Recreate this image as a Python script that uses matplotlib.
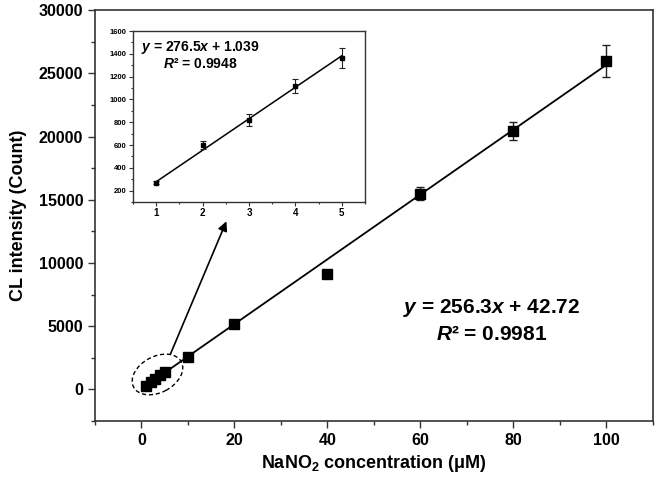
import matplotlib
matplotlib.use("Agg")
import matplotlib.pyplot as plt
import numpy as np
from matplotlib.patches import Ellipse
from matplotlib.transforms import ScaledTranslation

plt.rcParams['font.family'] = ['Liberation Sans', 'DejaVu Sans']
plt.rcParams['font.weight'] = 'bold'
plt.rcParams['mathtext.fontset'] = 'custom'
plt.rcParams['mathtext.it'] = 'Liberation Sans:italic:bold'
plt.rcParams['mathtext.rm'] = 'Liberation Sans:bold'
plt.rcParams['mathtext.bf'] = 'Liberation Sans:bold'

# concentration (uM) and CL intensity
conc = [1, 2, 3, 4, 5, 10, 20, 40, 60, 80, 100]
intensity = [270, 602, 821, 1119, 1364, 2600, 5210, 9160, 15470, 20450, 25970]
intensity_err = [30, 40, 55, 60, 90, 120, 150, 300, 500, 700, 1250]

# low concentration range (inset)
conc_low = [1, 2, 3, 4, 5]
intensity_low = [270, 602, 821, 1119, 1364]
intensity_low_err = [15, 35, 55, 60, 90]

slope_main, icpt_main = 256.3, 42.72
slope_low, icpt_low = 276.5, 1.039

fig = plt.figure(figsize=(6.56, 4.8), dpi=100)
ax = fig.add_axes([0.1448, 0.1229, 0.8506, 0.8561])

xf = np.array([1, 100])
ax.plot(xf, slope_main * xf + icpt_main, color='black', lw=1.3, zorder=2)
ax.errorbar(conc, intensity, yerr=intensity_err, fmt='s', color='black',
            ms=7.5, ecolor='#222222', elinewidth=1.0, capsize=3, capthick=1.0, zorder=3)

ax.set_xlim(-10, 110)
ax.set_ylim(-2500, 30000)
ax.set_xticks([0, 20, 40, 60, 80, 100])
ax.set_xticks(np.arange(-10, 111, 10), minor=True)
ax.set_yticks(np.arange(0, 30001, 5000))
ax.set_yticks(np.arange(-2500, 30001, 2500), minor=True)
ax.tick_params(which='major', direction='out', length=5, width=1.0, labelsize=11.5, colors='#333333',
               labelcolor='black')
ax.tick_params(which='minor', direction='out', length=3, width=1.0, colors='#333333')
for s in ax.spines.values():
    s.set_color('#333333')
    s.set_linewidth(1.2)

ax.set_xlabel('NaNO$_2$ concentration (\u03bcM)', fontsize=13, fontweight='bold', labelpad=4)
ax.set_ylabel('CL intensity (Count)', fontsize=13, fontweight='bold', labelpad=8)

ax.text(75.3, 6470, '$y$ = 256.3$x$ + 42.72', fontsize=15, ha='center', va='center')
ax.text(75.3, 4340, '$R$\u00b2 = 0.9981', fontsize=15, ha='center', va='center')

# dashed ellipse around low concentrations
trans = fig.dpi_scale_trans + ScaledTranslation(3.44, 1180, ax.transData)
ax.add_patch(Ellipse((0, 0), 0.54, 0.36, angle=28, transform=trans, fill=False,
                     ls=(0, (3, 2)), lw=1.0, color='black', zorder=4))
ax.annotate('', xy=(18.5, 13500), xytext=(6.0, 2600),
            arrowprops=dict(arrowstyle='-|>', color='black', lw=1.2, mutation_scale=14))

# inset
ins = fig.add_axes([0.2027, 0.5792, 0.3537, 0.356])
xl = np.array([1, 5])
ins.plot(xl, slope_low * xl + icpt_low, color='black', lw=1.1)
ins.errorbar(conc_low, intensity_low, yerr=intensity_low_err, fmt='s', color='black',
             ms=3.5, ecolor='#222222', elinewidth=0.8, capsize=2, capthick=0.8)
ins.set_xlim(0.5, 5.5)
ins.set_ylim(100, 1600)
ins.set_xticks([1, 2, 3, 4, 5])
ins.set_xticks(np.arange(0.5, 5.6, 0.5), minor=True)
ins.set_yticks(np.arange(200, 1601, 200))
ins.set_yticks(np.arange(100, 1601, 100), minor=True)
ins.tick_params(axis='x', which='major', labelsize=7, length=3, width=0.8, direction='out')
ins.tick_params(axis='y', which='major', labelsize=5.5, length=3, width=0.8, direction='out')
ins.tick_params(which='minor', length=1.5, width=0.8, direction='out')
ins.tick_params(colors='#333333', labelcolor='black', which='both', pad=1.5)
for s in ins.spines.values():
    s.set_color('#333333')
    s.set_linewidth(1.0)
ins.text(0.29, 0.905, '$y$ = 276.5$x$ + 1.039', transform=ins.transAxes, fontsize=10,
         ha='center', va='center')
ins.text(0.29, 0.805, '$R$\u00b2 = 0.9948', transform=ins.transAxes, fontsize=10,
         ha='center', va='center')

fig.savefig('out.png', dpi=100)
